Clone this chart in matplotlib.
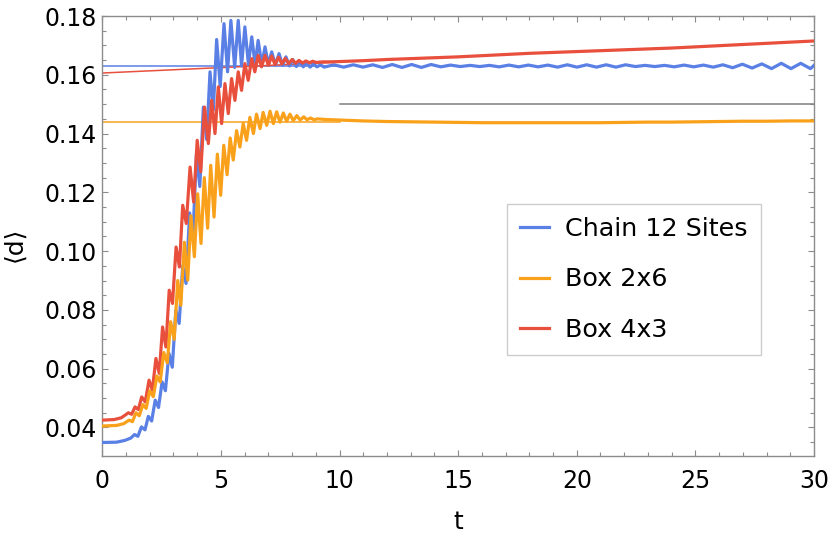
import matplotlib
matplotlib.use("Agg")
import matplotlib.pyplot as plt
from matplotlib.ticker import MultipleLocator, FormatStrFormatter

plt.rcParams['font.family'] = ['DejaVu Sans']

# ---------------- data ----------------
chain_t = [0, 0.6, 0.95, 1.2, 1.36, 1.50, 1.65, 1.80, 1.94, 2.08, 2.23, 2.37, 2.52, 2.66,
           2.81, 2.95, 3.10, 3.24, 3.39, 3.53, 3.68, 3.82, 3.97, 4.11, 4.26, 4.40, 4.54,
           4.68, 4.82, 4.97, 5.13, 5.28, 5.42, 5.58, 5.73, 5.87, 6.01, 6.16, 6.30, 6.44,
           6.57, 6.72, 6.86, 7.00, 7.14, 7.30, 7.45, 7.60, 7.74, 7.89, 8.03, 8.18, 8.32,
           8.47, 8.61, 8.76, 8.90, 9.05, 9.20,
           9.35, 9.76, 10.17, 10.58, 10.99, 11.40, 11.81, 12.22, 12.63, 13.04, 13.45,
           13.86, 14.27, 14.68, 15.09, 15.50, 15.91, 16.32, 16.73, 17.14, 17.55, 17.96,
           18.37, 18.78, 19.19, 19.60, 20.01, 20.42, 20.83, 21.24, 21.65, 22.06, 22.47,
           22.88, 23.29, 23.70, 24.11, 24.52, 24.93, 25.34, 25.75, 26.16, 26.57, 26.98,
           27.39, 27.80, 28.21, 28.62, 29.03, 29.44, 29.85, 30.0]
chain_d = [0.0349, 0.0350, 0.0356, 0.0364, 0.0376, 0.0370, 0.0402, 0.0392, 0.0438, 0.0422,
           0.0493, 0.0468, 0.0555, 0.0525, 0.0652, 0.0605, 0.0799, 0.0754, 0.0950, 0.0890,
           0.1130, 0.1050, 0.1330, 0.1220, 0.1490, 0.1380, 0.1610, 0.1480, 0.1720, 0.1560,
           0.1774, 0.1610, 0.1785, 0.1625, 0.1785, 0.1630, 0.1763, 0.1635, 0.1729, 0.1635,
           0.1717, 0.1635, 0.1695, 0.1635, 0.1678, 0.1633, 0.1672, 0.1632, 0.1661, 0.1630,
           0.1652, 0.1628, 0.1646, 0.1627, 0.1641, 0.1626, 0.1637, 0.1627, 0.1634,
           0.1626, 0.1634, 0.1626, 0.1634, 0.1626, 0.1634, 0.1625, 0.1635, 0.1625, 0.1635,
           0.1625, 0.1635, 0.1627, 0.1633, 0.1628, 0.1632, 0.1628, 0.1632, 0.1627, 0.1633,
           0.1627, 0.1633, 0.1627, 0.1633, 0.1626, 0.1634, 0.1626, 0.1634, 0.1626, 0.1634,
           0.1626, 0.1634, 0.1628, 0.1632, 0.1628, 0.1632, 0.1627, 0.1633, 0.1627, 0.1633,
           0.1626, 0.1634, 0.1624, 0.1636, 0.1623, 0.1637, 0.1621, 0.1639, 0.1621, 0.1639,
           0.1621, 0.1632]

box26_t = [0, 0.6, 0.9, 1.13, 1.27, 1.42, 1.56, 1.71, 1.85, 2.00, 2.15, 2.30, 2.44, 2.59,
           2.74, 2.88, 3.03, 3.18, 3.31, 3.46, 3.60, 3.74, 3.88, 4.02, 4.16, 4.30, 4.44,
           4.57, 4.71, 4.85, 4.99, 5.12, 5.26, 5.39, 5.52, 5.66, 5.80, 5.94, 6.08, 6.22,
           6.37, 6.50, 6.65, 6.78, 6.93, 7.07, 7.21, 7.35, 7.49, 7.63, 7.77, 7.91, 8.05,
           8.20, 8.34, 8.49, 8.63, 8.78, 8.92, 9.07, 9.4, 10, 11, 12, 13, 14, 15, 16, 17,
           18, 19, 20, 21, 22, 23, 24, 25, 26, 27, 28, 29, 30]
box26_d = [0.0405, 0.0407, 0.0413, 0.0425, 0.0420, 0.0450, 0.0440, 0.0478, 0.0465, 0.0525,
           0.0505, 0.0575, 0.0555, 0.0655, 0.0620, 0.0760, 0.0700, 0.0900, 0.0816, 0.1030,
           0.0901, 0.1120, 0.0981, 0.1195, 0.1026, 0.1250, 0.1078, 0.1292, 0.1116, 0.1330,
           0.1190, 0.1360, 0.1260, 0.1385, 0.1310, 0.1410, 0.1354, 0.1434, 0.1377, 0.1455,
           0.1400, 0.1466, 0.1417, 0.1472, 0.1428, 0.1476, 0.1434, 0.1474, 0.1439, 0.1470,
           0.1442, 0.1466, 0.1444, 0.1461, 0.1446, 0.1457, 0.1447, 0.1453, 0.1447, 0.1450,
           0.1448, 0.1446, 0.1443, 0.1441, 0.1440, 0.1439, 0.1438, 0.1437, 0.1437, 0.1437,
           0.1437, 0.1437, 0.1437, 0.1438, 0.1439, 0.1439, 0.1440, 0.1441, 0.1442, 0.1442,
           0.1443, 0.1443]

box43_t = [0, 0.5, 0.8, 1.10, 1.24, 1.38, 1.52, 1.66, 1.81, 1.97, 2.11, 2.26, 2.40, 2.54,
           2.68, 2.82, 2.96, 3.11, 3.25, 3.39, 3.54, 3.70, 3.85, 4.00, 4.15, 4.31, 4.47,
           4.61, 4.75, 4.89, 5.03, 5.17, 5.31, 5.45, 5.59, 5.73, 5.87, 6.01, 6.15, 6.30,
           6.43, 6.57, 6.71, 6.86, 7.00, 7.14, 7.28, 7.43, 7.57, 7.71, 7.86, 8.00, 8.15,
           8.29, 8.44, 8.58, 8.73, 8.87, 9.02, 9.3, 9.6, 10, 11, 12, 13, 14, 15, 16, 17,
           18, 19, 20, 21, 22, 23, 24, 25, 26, 27, 28, 29, 30]
box43_d = [0.0425, 0.0427, 0.0433, 0.0450, 0.0445, 0.0470, 0.0461, 0.0504, 0.0487, 0.0561,
           0.0527, 0.0635, 0.0584, 0.0742, 0.0674, 0.0867, 0.0822, 0.1014, 0.0946, 0.1156,
           0.1094, 0.1286, 0.1167, 0.1377, 0.1270, 0.1490, 0.1366, 0.1513, 0.1400, 0.1559,
           0.1434, 0.1570, 0.1468, 0.1587, 0.1513, 0.1610, 0.1547, 0.1638, 0.1581, 0.1655,
           0.1610, 0.1666, 0.1627, 0.1666, 0.1632, 0.1664, 0.1635, 0.1660, 0.1637, 0.1656,
           0.1638, 0.1652, 0.1639, 0.1649, 0.1640, 0.1647, 0.1641, 0.1646, 0.1642, 0.1644,
           0.1644, 0.1645, 0.1648, 0.1652, 0.1655, 0.1658, 0.1661, 0.1665, 0.1669, 0.1673,
           0.1676, 0.1679, 0.1682, 0.1685, 0.1688, 0.1691, 0.1695, 0.1699, 0.1703, 0.1707,
           0.1711, 0.1715]

# reference lines
chain_ref_t = [0, 10]
chain_ref_d = [0.1629, 0.1629]
box26_ref_t = [0, 10]
box26_ref_d = [0.1438, 0.1438]
box43_ref_t = [0, 10]
box43_ref_d = [0.1606, 0.1643]
gray_ref_t = [10, 30]
gray_ref_d = [0.1500, 0.1500]

labels = ["Chain 12 Sites", "Box 2x6", "Box 4x3"]
x_ticks = [0, 5, 10, 15, 20, 25, 30]
y_ticks = [0.04, 0.06, 0.08, 0.10, 0.12, 0.14, 0.16, 0.18]

c_blue = "#5a80e6"
c_orange = "#f9a11b"
c_red = "#e8503d"

# ---------------- figure ----------------
fig = plt.figure(figsize=(8.3, 5.36), dpi=100)
W, H = 830, 536
left, right, top, bottom = 102.3, 814, 16, 456
ax = fig.add_axes([left / W, 1 - bottom / H, (right - left) / W, (bottom - top) / H])

lw = 2.3
ax.plot(chain_ref_t, chain_ref_d, color=c_blue, lw=1.1, zorder=2)
ax.plot(box26_ref_t, box26_ref_d, color=c_orange, lw=1.1, zorder=2)
ax.plot(box43_ref_t, box43_ref_d, color=c_red, lw=1.1, zorder=2)
ax.plot(gray_ref_t, gray_ref_d, color="#7f7f7f", lw=1.1, zorder=2)

l1, = ax.plot(chain_t, chain_d, color=c_blue, lw=lw, zorder=3, solid_joinstyle='round')
l3, = ax.plot(box43_t, box43_d, color=c_red, lw=lw, zorder=4, solid_joinstyle='round')
l2, = ax.plot(box26_t, box26_d, color=c_orange, lw=lw, zorder=5, solid_joinstyle='round')

ax.set_xlim(0, 30)
ax.set_ylim(0.0303, 0.18)
ax.set_xticks(x_ticks)
ax.set_yticks(y_ticks)
ax.xaxis.set_minor_locator(MultipleLocator(1))
ax.yaxis.set_minor_locator(MultipleLocator(0.005))
ax.yaxis.set_major_formatter(FormatStrFormatter('%.2f'))

for s in ax.spines.values():
    s.set_color("#8c8c8c")
    s.set_linewidth(1.0)
ax.tick_params(which='both', direction='in', top=True, right=True, color="#8c8c8c",
               width=0.8, labelsize=17, labelcolor='black')
ax.tick_params(which='major', length=4.5)
ax.tick_params(which='minor', length=2.8)
ax.tick_params(axis='y', pad=4)
ax.tick_params(axis='x', pad=9.5)

ax.set_xlabel("t", fontsize=18, labelpad=12)
ax.set_ylabel("⟨d⟩", fontsize=18)
ax.yaxis.set_label_coords(-0.106, 0.482)

leg = ax.legend([l1, l2, l3], labels, loc='upper left',
                bbox_to_anchor=(0.5686, 0.5727), borderaxespad=0,
                fontsize=18.3, frameon=True, fancybox=False, framealpha=1,
                edgecolor="#cccccc", handlelength=1.14, handletextpad=0.63,
                labelspacing=1.03, borderpad=0.52)
leg.get_frame().set_linewidth(1.0)

fig.savefig("out.png", dpi=100)
